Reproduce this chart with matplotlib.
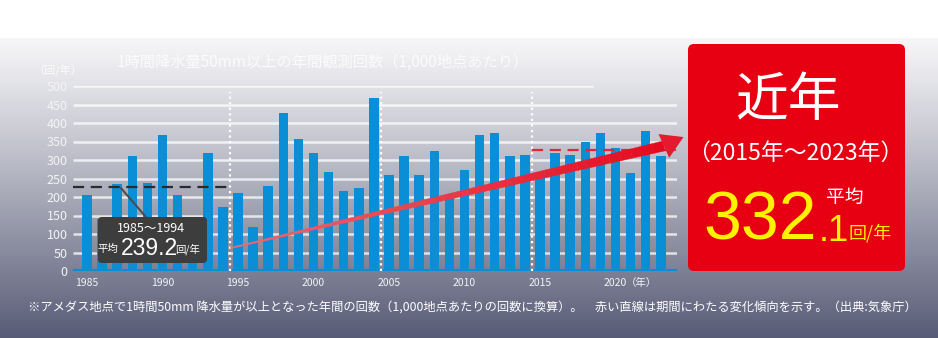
import matplotlib.pyplot as plt
import numpy as np
from matplotlib.patches import FancyBboxPatch, Polygon
from matplotlib.transforms import IdentityTransform

plt.rcParams['font.family'] = ['Noto Sans CJK JP', 'DejaVu Sans']

# --- data ---
years = list(range(1985, 2024))
counts = [205, 140, 234, 311, 237, 367, 205, 140, 320, 173,
          210, 118, 230, 427, 357, 319, 268, 217, 225, 468,
          259, 311, 259, 324, 205, 273, 367, 373, 311, 314,
          260, 319, 314, 349, 373, 332, 265, 378, 311]
y_ticks = [0, 50, 100, 150, 200, 250, 300, 350, 400, 450, 500]
x_tick_years = [1985, 1990, 1995, 2000, 2005, 2010, 2015, 2020]
period_edges = [1994.5, 2004.5, 2014.5]
old_avg_line = 228
new_avg_line = 328
trend_x = [1994.5, 2023.2]
trend_y = [62, 338]
trend_tip = (2024.5, 362)

title = '1時間降水量50mm以上の年間観測回数（1,000地点あたり）'
note = ('※アメダス地点で1時間50mm 降水量が以上となった年間の回数（1,000地点あたりの回数に換算）。'
        '　赤い直線は期間にわたる変化傾向を示す。（出典:気象庁）')

W, H = 938, 338
fig = plt.figure(figsize=(W / 100, H / 100), dpi=100)
ident = IdentityTransform()


def P(x, y):
    # pixel measured from top-left -> display coords
    return (x, H - y)


# background gradient
rows = np.arange(H)
t = np.clip((rows - 38) / (H - 38), 0, 1) ** 1.1
top = np.array([0.965, 0.965, 0.972])
bottom = np.array([0.34, 0.355, 0.46])
grad = top[None, :] * (1 - t[:, None]) + bottom[None, :] * t[:, None]
grad[rows < 38] = 1.0
bg = fig.add_axes([0, 0, 1, 1], zorder=-1)
bg.imshow(grad[:, None, :], aspect='auto', extent=[0, 1, 0, 1])
bg.axis('off')

# main chart
ax = fig.add_axes([73 / W, (H - 271) / H, 604 / W, 185 / H])
ax.patch.set_visible(False)
x0, x1 = 1984.07, 2024.07
ax.hlines(y_ticks[1:-1], x0, x1, colors='white', lw=1.8, alpha=0.75, zorder=1)
ax.hlines(500, x0, 2018.5, colors='white', lw=1.8, alpha=0.75, zorder=1)
ax.bar(years, counts, width=0.63, color='#0a8fd6', zorder=2)
ax.axhline(0, color='#0a8fd6', lw=3, zorder=3)
ax.vlines(period_edges, 0, 484, colors='white', linestyles=(0, (1, 1.5)), lw=1.6, zorder=4)
ax.hlines(old_avg_line, x0, period_edges[0], colors='#2a2a2a', linestyles=(0, (5, 3)), lw=1.6, zorder=5)
ax.hlines(new_avg_line, period_edges[2], 2024.0, colors='#e0283a', linestyles=(0, (5, 3)), lw=1.6, zorder=5)
ax.plot([1987.25, 1988.9], [224, 146], color='#4a4a4a', lw=1.4, zorder=6)

ax.set_xlim(x0, x1)
ax.set_ylim(0, 500)
ax.set_yticks(y_ticks)
ax.set_yticklabels([str(v) for v in y_ticks])
ax.set_xticks(x_tick_years)
ax.set_xticklabels([str(v) for v in x_tick_years])
ax.tick_params(axis='y', length=0, pad=4, labelsize=9, labelcolor='#f4f4f6')
ax.tick_params(axis='x', length=0, pad=5, labelsize=7.5, labelcolor='#f4f4f6')
for s in ax.spines.values():
    s.set_visible(False)

# trend arrow (drawn in pixels so it keeps its taper)
p0 = ax.transData.transform((trend_x[0], trend_y[0]))
p1 = ax.transData.transform((trend_x[1], trend_y[1]))
tip = ax.transData.transform(trend_tip)
d = (p1 - p0) / np.linalg.norm(p1 - p0)
n = np.array([-d[1], d[0]])
c_tail = np.array([0.92, 0.42, 0.45])
c_head = np.array([0.90, 0.03, 0.12])
steps = 40
for i in range(steps):
    a, b = i / steps, (i + 1) / steps
    qa = p0 + (p1 - p0) * a
    qb = p0 + (p1 - p0) * b
    wa, wb = 0.6 + 4.4 * a, 0.6 + 4.4 * b
    col = c_tail * (1 - a) + c_head * a
    poly = Polygon([qa + n * wa, qb + n * wb, qb - n * wb, qa - n * wa],
                   closed=True, transform=ident, fc=col, ec=col, lw=0.3, zorder=6)
    fig.add_artist(poly)
dh = (tip - p1) / np.linalg.norm(tip - p1)
nh = np.array([-dh[1], dh[0]])
head = Polygon([tip, p1 + nh * 13, p1 - nh * 13], closed=True, transform=ident,
               fc='#e51a2e', ec='none', zorder=7)
fig.add_artist(head)

# 1985-1994 average box
fig.add_artist(FancyBboxPatch(P(98, 263), 109, 46, boxstyle='round,pad=0,rounding_size=4',
                              fc='#3d3d3d', ec='none', transform=ident, zorder=8))
fig.text(*P(151, 228), '1985～1994', transform=ident, fontsize=9, color='white',
         ha='center', va='center', zorder=9)
fig.text(*P(108, 249), '平均', transform=ident, fontsize=7.5, color='white',
         ha='center', va='center', zorder=9)
fig.text(*P(149, 255), '239.2', transform=ident, fontsize=16.5, color='white',
         family=['Liberation Sans'], ha='center', va='baseline', zorder=9)
fig.text(*P(188, 249), '回/年', transform=ident, fontsize=7.5, color='white',
         ha='center', va='center', zorder=9)

# red panel on the right
fig.add_artist(FancyBboxPatch(P(688, 271), 217, 227, boxstyle='round,pad=0,rounding_size=6',
                              fc='#e60012', ec='none', transform=ident, zorder=8))
fig.text(*P(788, 101), '近年', transform=ident, fontsize=38, color='white',
         ha='center', va='center', zorder=9)
fig.text(*P(795, 153), '（2015年～2023年）', transform=ident, fontsize=16.5, color='white',
         ha='center', va='center', zorder=9)
fig.text(*P(703, 240), '332', transform=ident, fontsize=49, color='#fff200',
         family=['Liberation Sans'], ha='left', va='baseline', zorder=9)
fig.text(*P(819, 241), '.1', transform=ident, fontsize=26, color='#fff200',
         family=['Liberation Sans'], ha='left', va='baseline', zorder=9)
fig.text(*P(845, 197), '平均', transform=ident, fontsize=13.5, color='white',
         ha='center', va='center', zorder=9)
fig.text(*P(870, 233), '回/年', transform=ident, fontsize=13, color='#fff200',
         ha='center', va='center', zorder=9)

# other labels
fig.text(*P(323, 62), title, transform=ident, fontsize=11, color='#fbfbfb',
         ha='center', va='center')
fig.text(*P(58, 71), '（回/年）', transform=ident, fontsize=8, color='#fbfbfb',
         ha='center', va='center')
fig.text(*P(641, 283), '（年）', transform=ident, fontsize=7.5, color='#f4f4f6',
         ha='center', va='center')
fig.text(*P(472, 307), note, transform=ident, fontsize=8.8, color='white',
         ha='center', va='center')

fig.savefig('out.png', dpi=100)
